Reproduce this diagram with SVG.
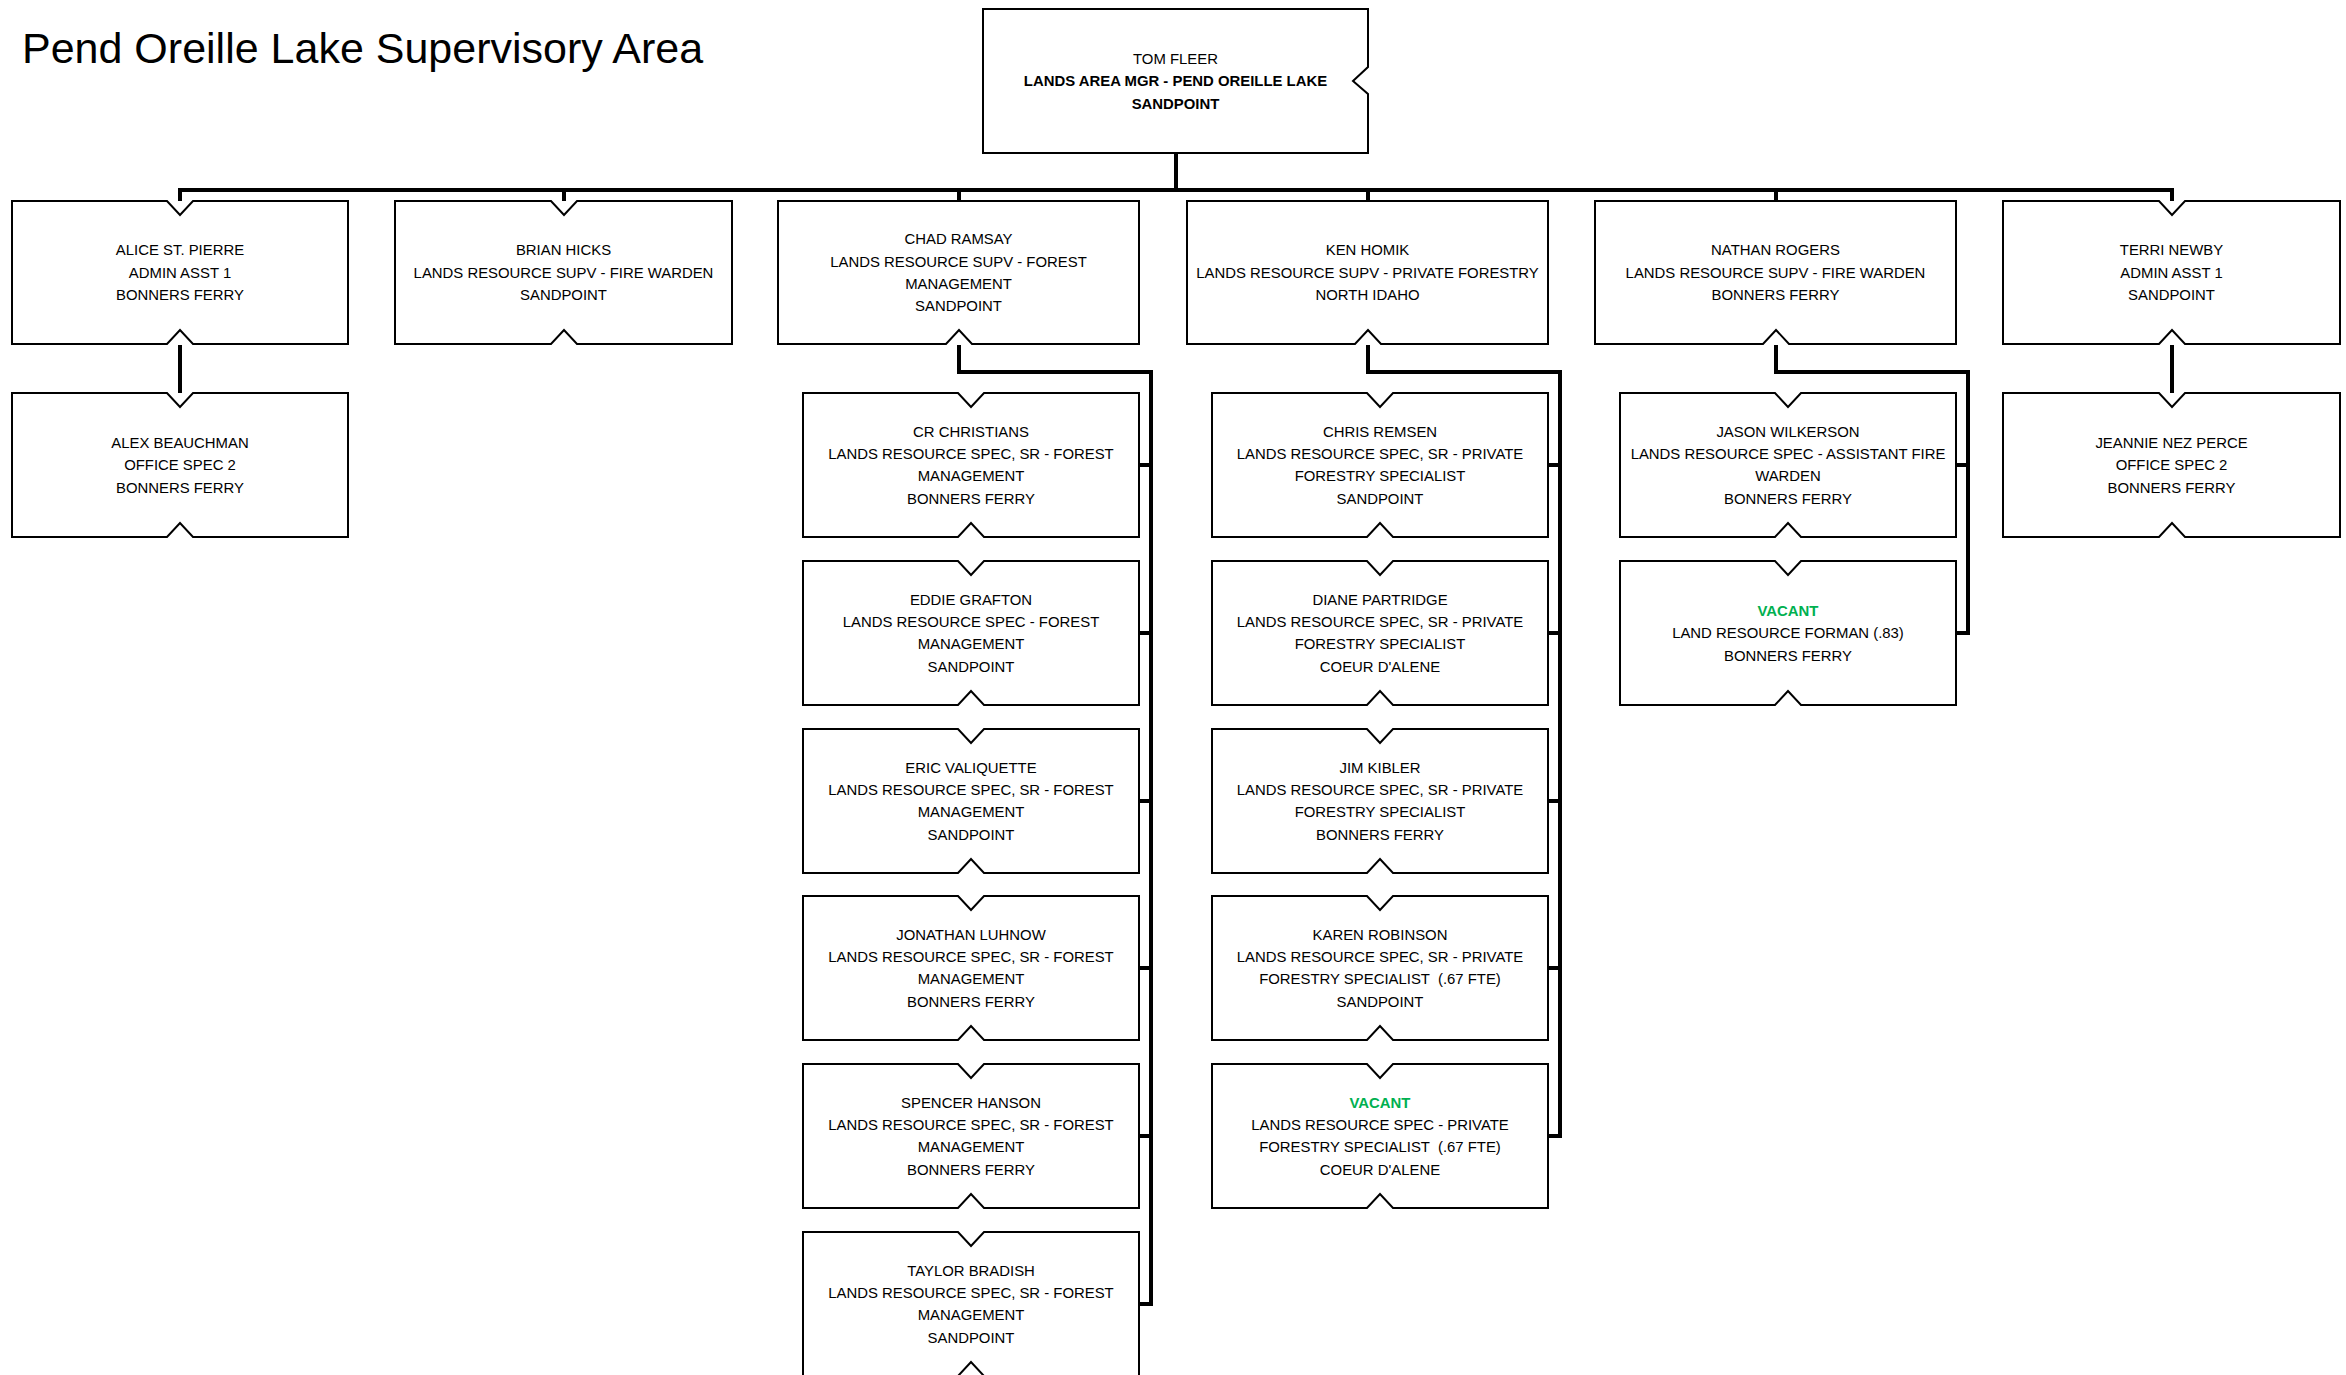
<svg xmlns="http://www.w3.org/2000/svg" width="2346" height="1375" viewBox="0 0 2346 1375">
<style>
.box{fill:#fff;stroke:#000;stroke-width:2;stroke-linejoin:miter}
.conn{fill:none;stroke:#000;stroke-width:4;stroke-linejoin:miter;stroke-linecap:butt}
.t{font-family:"Liberation Sans",Arial,sans-serif;font-size:14.9px;fill:#000;text-anchor:middle}
.b{font-weight:bold}
.v{fill:#00B050;font-weight:bold}
.title{font-family:"Liberation Sans",Arial,sans-serif;font-size:43px;fill:#000}
</style>
<rect width="2346" height="1375" fill="#fff"/>
<text class="title" x="22" y="63">Pend Oreille Lake Supervisory Area</text>

<g id="connectors">
<path class="conn" d="M1176,153 V190"/>
<path class="conn" d="M180,201 V190 H2172 V201"/>
<path class="conn" d="M564,190 V201 M959,190 V201 M1368,190 V201 M1776,190 V201"/>
<path class="conn" d="M180,345 V393"/>
<path class="conn" d="M2172,345 V393"/>
<path class="conn" d="M959,345 V372 H1151 V1304 H1139 M1139,465 H1151 M1139,633 H1151 M1139,801 H1151 M1139,968 H1151 M1139,1136 H1151"/>
<path class="conn" d="M1368,345 V372 H1560 V1136 H1548 M1548,465 H1560 M1548,633 H1560 M1548,801 H1560 M1548,968 H1560"/>
<path class="conn" d="M1776,345 V372 H1968 V633 H1956 M1956,465 H1968"/>
</g>

<g id="tom-fleer">
<path class="box" d="M983,9 H1368 V67 L1353,81 L1368,94 V153 H983 Z"/>
<text class="t"><tspan x="1175.5" y="63.8">TOM FLEER</tspan><tspan class="b" x="1175.5" y="86.2">LANDS AREA MGR - PEND OREILLE LAKE</tspan><tspan class="b" x="1175.5" y="108.6">SANDPOINT</tspan></text>
</g>

<g id="alice-st-pierre">
<path class="box" d="M12,201 H167 L180,215 L193,201 H348 V344 H193 L180,330 L167,344 H12 Z"/>
<text class="t"><tspan x="180" y="255.3">ALICE ST. PIERRE</tspan><tspan x="180" y="277.7">ADMIN ASST 1</tspan><tspan x="180" y="300.1">BONNERS FERRY</tspan></text>
</g>

<g id="brian-hicks">
<path class="box" d="M395,201 H551 L564,215 L577,201 H732 V344 H577 L564,330 L551,344 H395 Z"/>
<text class="t"><tspan x="563.5" y="255.3">BRIAN HICKS</tspan><tspan x="563.5" y="277.7">LANDS RESOURCE SUPV - FIRE WARDEN</tspan><tspan x="563.5" y="300.1">SANDPOINT</tspan></text>
</g>

<g id="chad-ramsay">
<path class="box" d="M778,201 H1139 V344 H972 L959,330 L946,344 H778 Z"/>
<text class="t"><tspan x="958.5" y="244.1">CHAD RAMSAY</tspan><tspan x="958.5" y="266.5">LANDS RESOURCE SUPV - FOREST</tspan><tspan x="958.5" y="288.9">MANAGEMENT</tspan><tspan x="958.5" y="311.3">SANDPOINT</tspan></text>
</g>

<g id="ken-homik">
<path class="box" d="M1187,201 H1548 V344 H1381 L1368,330 L1355,344 H1187 Z"/>
<text class="t"><tspan x="1367.5" y="255.3">KEN HOMIK</tspan><tspan x="1367.5" y="277.7">LANDS RESOURCE SUPV - PRIVATE FORESTRY</tspan><tspan x="1367.5" y="300.1">NORTH IDAHO</tspan></text>
</g>

<g id="nathan-rogers">
<path class="box" d="M1595,201 H1956 V344 H1789 L1776,330 L1763,344 H1595 Z"/>
<text class="t"><tspan x="1775.5" y="255.3">NATHAN ROGERS</tspan><tspan x="1775.5" y="277.7">LANDS RESOURCE SUPV - FIRE WARDEN</tspan><tspan x="1775.5" y="300.1">BONNERS FERRY</tspan></text>
</g>

<g id="terri-newby">
<path class="box" d="M2003,201 H2159 L2172,215 L2185,201 H2340 V344 H2185 L2172,330 L2159,344 H2003 Z"/>
<text class="t"><tspan x="2171.5" y="255.3">TERRI NEWBY</tspan><tspan x="2171.5" y="277.7">ADMIN ASST 1</tspan><tspan x="2171.5" y="300.1">SANDPOINT</tspan></text>
</g>

<g id="alex-beauchman">
<path class="box" d="M12,393 H167 L180,407 L193,393 H348 V537 H193 L180,523 L167,537 H12 Z"/>
<text class="t"><tspan x="180" y="447.8">ALEX BEAUCHMAN</tspan><tspan x="180" y="470.2">OFFICE SPEC 2</tspan><tspan x="180" y="492.6">BONNERS FERRY</tspan></text>
</g>

<g id="jeannie-nez-perce">
<path class="box" d="M2003,393 H2159 L2172,407 L2185,393 H2340 V537 H2185 L2172,523 L2159,537 H2003 Z"/>
<text class="t"><tspan x="2171.5" y="447.8">JEANNIE NEZ PERCE</tspan><tspan x="2171.5" y="470.2">OFFICE SPEC 2</tspan><tspan x="2171.5" y="492.6">BONNERS FERRY</tspan></text>
</g>

<g id="cr-christians">
<path class="box" d="M803,393 H958 L971,407 L984,393 H1139 V537 H984 L971,523 L958,537 H803 Z"/>
<text class="t"><tspan x="971" y="436.6">CR CHRISTIANS</tspan><tspan x="971" y="459">LANDS RESOURCE SPEC, SR - FOREST</tspan><tspan x="971" y="481.4">MANAGEMENT</tspan><tspan x="971" y="503.8">BONNERS FERRY</tspan></text>
</g>

<g id="eddie-grafton">
<path class="box" d="M803,561 H958 L971,575 L984,561 H1139 V705 H984 L971,691 L958,705 H803 Z"/>
<text class="t"><tspan x="971" y="604.6">EDDIE GRAFTON</tspan><tspan x="971" y="627">LANDS RESOURCE SPEC - FOREST</tspan><tspan x="971" y="649.4">MANAGEMENT</tspan><tspan x="971" y="671.8">SANDPOINT</tspan></text>
</g>

<g id="eric-valiquette">
<path class="box" d="M803,729 H958 L971,743 L984,729 H1139 V873 H984 L971,859 L958,873 H803 Z"/>
<text class="t"><tspan x="971" y="772.6">ERIC VALIQUETTE</tspan><tspan x="971" y="795">LANDS RESOURCE SPEC, SR - FOREST</tspan><tspan x="971" y="817.4">MANAGEMENT</tspan><tspan x="971" y="839.8">SANDPOINT</tspan></text>
</g>

<g id="jonathan-luhnow">
<path class="box" d="M803,896 H958 L971,910 L984,896 H1139 V1040 H984 L971,1026 L958,1040 H803 Z"/>
<text class="t"><tspan x="971" y="939.6">JONATHAN LUHNOW</tspan><tspan x="971" y="962">LANDS RESOURCE SPEC, SR - FOREST</tspan><tspan x="971" y="984.4">MANAGEMENT</tspan><tspan x="971" y="1006.8">BONNERS FERRY</tspan></text>
</g>

<g id="spencer-hanson">
<path class="box" d="M803,1064 H958 L971,1078 L984,1064 H1139 V1208 H984 L971,1194 L958,1208 H803 Z"/>
<text class="t"><tspan x="971" y="1107.6">SPENCER HANSON</tspan><tspan x="971" y="1130">LANDS RESOURCE SPEC, SR - FOREST</tspan><tspan x="971" y="1152.4">MANAGEMENT</tspan><tspan x="971" y="1174.8">BONNERS FERRY</tspan></text>
</g>

<g id="taylor-bradish">
<path class="box" d="M803,1232 H958 L971,1246 L984,1232 H1139 V1376 H984 L971,1362 L958,1376 H803 Z"/>
<text class="t"><tspan x="971" y="1275.6">TAYLOR BRADISH</tspan><tspan x="971" y="1298">LANDS RESOURCE SPEC, SR - FOREST</tspan><tspan x="971" y="1320.4">MANAGEMENT</tspan><tspan x="971" y="1342.8">SANDPOINT</tspan></text>
</g>

<g id="chris-remsen">
<path class="box" d="M1212,393 H1367 L1380,407 L1393,393 H1548 V537 H1393 L1380,523 L1367,537 H1212 Z"/>
<text class="t"><tspan x="1380" y="436.6">CHRIS REMSEN</tspan><tspan x="1380" y="459">LANDS RESOURCE SPEC, SR - PRIVATE</tspan><tspan x="1380" y="481.4">FORESTRY SPECIALIST</tspan><tspan x="1380" y="503.8">SANDPOINT</tspan></text>
</g>

<g id="diane-partridge">
<path class="box" d="M1212,561 H1367 L1380,575 L1393,561 H1548 V705 H1393 L1380,691 L1367,705 H1212 Z"/>
<text class="t"><tspan x="1380" y="604.6">DIANE PARTRIDGE</tspan><tspan x="1380" y="627">LANDS RESOURCE SPEC, SR - PRIVATE</tspan><tspan x="1380" y="649.4">FORESTRY SPECIALIST</tspan><tspan x="1380" y="671.8">COEUR D'ALENE</tspan></text>
</g>

<g id="jim-kibler">
<path class="box" d="M1212,729 H1367 L1380,743 L1393,729 H1548 V873 H1393 L1380,859 L1367,873 H1212 Z"/>
<text class="t"><tspan x="1380" y="772.6">JIM KIBLER</tspan><tspan x="1380" y="795">LANDS RESOURCE SPEC, SR - PRIVATE</tspan><tspan x="1380" y="817.4">FORESTRY SPECIALIST</tspan><tspan x="1380" y="839.8">BONNERS FERRY</tspan></text>
</g>

<g id="karen-robinson">
<path class="box" d="M1212,896 H1367 L1380,910 L1393,896 H1548 V1040 H1393 L1380,1026 L1367,1040 H1212 Z"/>
<text class="t" xml:space="preserve"><tspan x="1380" y="939.6">KAREN ROBINSON</tspan><tspan x="1380" y="962">LANDS RESOURCE SPEC, SR - PRIVATE</tspan><tspan x="1380" y="984.4">FORESTRY SPECIALIST  (.67 FTE)</tspan><tspan x="1380" y="1006.8">SANDPOINT</tspan></text>
</g>

<g id="vacant-private-forestry">
<path class="box" d="M1212,1064 H1367 L1380,1078 L1393,1064 H1548 V1208 H1393 L1380,1194 L1367,1208 H1212 Z"/>
<text class="t" xml:space="preserve"><tspan class="v" x="1380" y="1107.6">VACANT</tspan><tspan x="1380" y="1130">LANDS RESOURCE SPEC - PRIVATE</tspan><tspan x="1380" y="1152.4">FORESTRY SPECIALIST  (.67 FTE)</tspan><tspan x="1380" y="1174.8">COEUR D'ALENE</tspan></text>
</g>

<g id="jason-wilkerson">
<path class="box" d="M1620,393 H1775 L1788,407 L1801,393 H1956 V537 H1801 L1788,523 L1775,537 H1620 Z"/>
<text class="t"><tspan x="1788" y="436.6">JASON WILKERSON</tspan><tspan x="1788" y="459">LANDS RESOURCE SPEC - ASSISTANT FIRE</tspan><tspan x="1788" y="481.4">WARDEN</tspan><tspan x="1788" y="503.8">BONNERS FERRY</tspan></text>
</g>

<g id="vacant-forman">
<path class="box" d="M1620,561 H1775 L1788,575 L1801,561 H1956 V705 H1801 L1788,691 L1775,705 H1620 Z"/>
<text class="t"><tspan class="v" x="1788" y="615.8">VACANT</tspan><tspan x="1788" y="638.2">LAND RESOURCE FORMAN (.83)</tspan><tspan x="1788" y="660.6">BONNERS FERRY</tspan></text>
</g>
</svg>
